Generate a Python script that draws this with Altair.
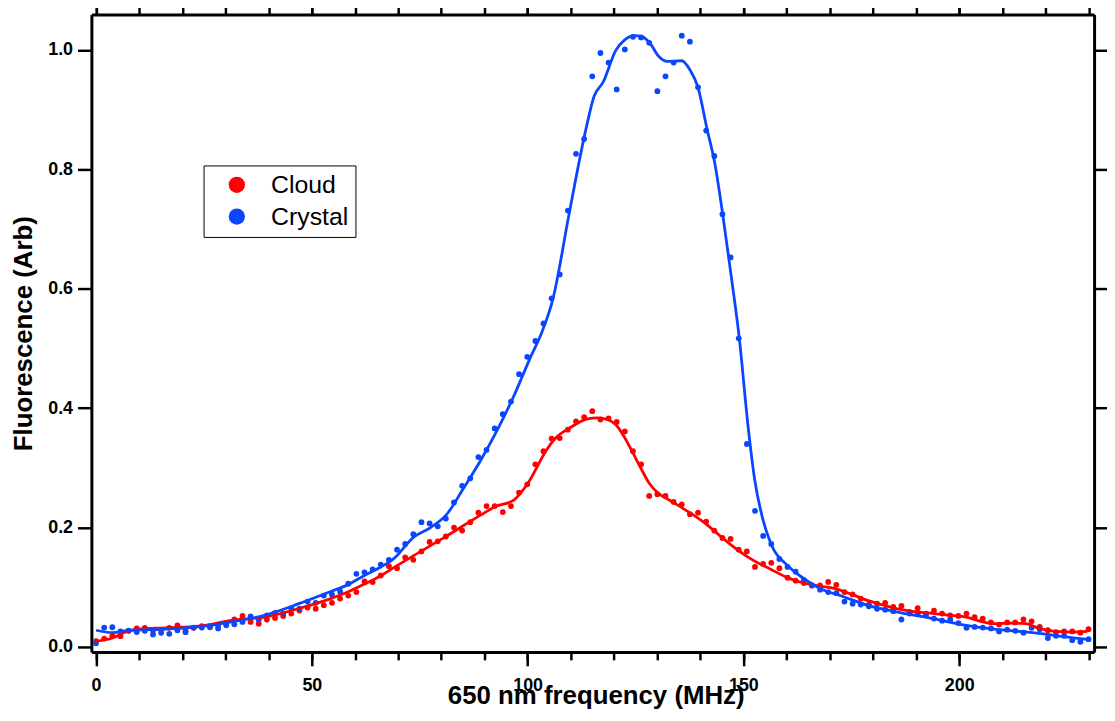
import altair as alt
import pandas as pd

# ---------------- data ----------------
freq = [0.0, 1.885, 3.77, 5.655, 7.54, 9.425, 11.31, 13.195, 15.08, 16.965,
        18.85, 20.735, 22.62, 24.505, 26.39, 28.275, 30.16, 32.045, 33.93, 35.815,
        37.7, 39.585, 41.47, 43.355, 45.24, 47.125, 49.01, 50.895, 52.78, 54.665,
        56.55, 58.435, 60.32, 62.205, 64.09, 65.975, 67.86, 69.745, 71.63, 73.515,
        75.4, 77.285, 79.17, 81.055, 82.94, 84.825, 86.71, 88.595, 90.48, 92.365,
        94.25, 96.135, 98.02, 99.905, 101.79, 103.675, 105.56, 107.445, 109.33, 111.215,
        113.1, 114.985, 116.87, 118.755, 120.64, 122.525, 124.41, 126.295, 128.18, 130.065,
        131.95, 133.835, 135.72, 137.605, 139.49, 141.375, 143.26, 145.145, 147.03, 148.915,
        150.8, 152.685, 154.57, 156.455, 158.34, 160.225, 162.11, 163.995, 165.88, 167.765,
        169.65, 171.535, 173.42, 175.305, 177.19, 179.075, 180.96, 182.845, 184.73, 186.615,
        188.5, 190.385, 192.27, 194.155, 196.04, 197.925, 199.81, 201.695, 203.58, 205.465,
        207.35, 209.235, 211.12, 213.005, 214.89, 216.775, 218.66, 220.545, 222.43, 224.315,
        226.2, 228.085, 229.97]

cloud = [0.0097, 0.014, 0.0187, 0.018, 0.027, 0.031, 0.032, 0.0275, 0.029, 0.032,
         0.036, 0.0275, 0.032, 0.035, 0.033, 0.036, 0.039, 0.046, 0.052, 0.042,
         0.039, 0.046, 0.0487, 0.052, 0.056, 0.061, 0.066, 0.064, 0.070, 0.074,
         0.081, 0.086, 0.092, 0.1097, 0.1087, 0.1197, 0.1353, 0.132, 0.150, 0.146,
         0.160, 0.176, 0.177, 0.185, 0.200, 0.195, 0.209, 0.225, 0.236, 0.236,
         0.226, 0.236, 0.2587, 0.2725, 0.306, 0.328, 0.349, 0.350, 0.364, 0.378,
         0.385, 0.395, 0.381, 0.383, 0.377, 0.361, 0.328, 0.306, 0.253, 0.256,
         0.253, 0.243, 0.239, 0.2225, 0.225, 0.210, 0.195, 0.1825, 0.181, 0.163,
         0.160, 0.134, 0.139, 0.141, 0.132, 0.116, 0.111, 0.107, 0.103, 0.103,
         0.109, 0.104, 0.092, 0.088, 0.081, 0.071, 0.0725, 0.074, 0.067, 0.0687,
         0.0587, 0.065, 0.056, 0.061, 0.056, 0.053, 0.052, 0.056, 0.050, 0.0475,
         0.041, 0.0375, 0.041, 0.041, 0.046, 0.043, 0.0337, 0.028, 0.025, 0.026,
         0.026, 0.024, 0.0297]

crystal = [0.006, 0.0325, 0.033, 0.026, 0.0275, 0.025, 0.027, 0.021, 0.0236, 0.022,
           0.028, 0.0247, 0.0325, 0.0325, 0.0347, 0.031, 0.0363, 0.038, 0.042, 0.0513,
           0.0458, 0.053, 0.057, 0.056, 0.065, 0.064, 0.076, 0.074, 0.086, 0.0875,
           0.093, 0.106, 0.1225, 0.125, 0.130, 0.138, 0.146, 0.163, 0.1725, 0.189,
           0.209, 0.207, 0.202, 0.215, 0.242, 0.270, 0.2825, 0.318, 0.330, 0.366,
           0.390, 0.411, 0.457, 0.486, 0.5125, 0.542, 0.584, 0.624, 0.731, 0.826,
           0.851, 0.956, 0.995, 0.979, 0.934, 1.001, 1.022, 1.021, 1.012, 0.931,
           0.956, 0.979, 1.024, 1.014, 0.9375, 0.865, 0.8225, 0.725, 0.6525, 0.517,
           0.340, 0.228, 0.186, 0.1725, 0.1475, 0.134, 0.126, 0.1125, 0.103, 0.096,
           0.092, 0.090, 0.076, 0.0725, 0.071, 0.068, 0.064, 0.0625, 0.060, 0.046,
           0.056, 0.0547, 0.053, 0.0475, 0.044, 0.046, 0.040, 0.032, 0.0335, 0.0325,
           0.031, 0.026, 0.029, 0.027, 0.024, 0.032, 0.0297, 0.015, 0.0187, 0.0187,
           0.0113, 0.0087, 0.013]

cloud_fit_x = [0, 3.8, 6.9, 9.9, 16.1, 23.8, 31.4, 39.1, 46.8, 54.4, 58.3, 62.1, 65.9,
               69.0, 73.6, 81.3, 88.9, 92.8, 96.6, 98.5, 100.4, 104.2, 106.5, 110.0,
               113.9, 116.2, 118.5, 120.4, 122.3, 124.2, 126.2, 128.1, 130.0, 133.1,
               136.9, 140.8, 144.6, 148.4, 152.3, 156.1, 159.9, 163.7, 167.6, 171.0,
               174.8, 178.7, 182.5, 186.3, 190.2, 194.0, 197.8, 201.7, 205.5, 207.8,
               211.6, 215.5, 218.5, 222.4, 226.2, 229.7]
cloud_fit_y = [0.0097, 0.015, 0.025, 0.0297, 0.032, 0.0347, 0.0447, 0.050, 0.064, 0.081,
               0.092, 0.105, 0.119, 0.133, 0.153, 0.186, 0.220, 0.236, 0.245, 0.259,
               0.278, 0.328, 0.350, 0.368, 0.382, 0.3837, 0.381, 0.3725, 0.353, 0.328,
               0.300, 0.275, 0.259, 0.245, 0.228, 0.209, 0.186, 0.164, 0.145, 0.131,
               0.117, 0.1075, 0.102, 0.098, 0.089, 0.078, 0.070, 0.063, 0.0587, 0.056,
               0.053, 0.050, 0.042, 0.039, 0.040, 0.039, 0.031, 0.026, 0.025, 0.026]

crystal_fit_x = [0, 3.8, 7.7, 16, 24, 31.4, 39, 47, 54.4, 58.3, 62, 66, 69, 73.6, 77.5,
                 81.3, 85, 89, 92.8, 96.6, 100.4, 103.5, 105.8, 109.6, 113.5, 115.4,
                 117.5, 120.4, 122.5, 124.8, 126.5, 128.4, 130.3, 132.3, 135.7, 137.6,
                 139.5, 141.5, 143.4, 145.3, 147.2, 149.1, 151.0, 152.6, 154.5, 156.4,
                 160.3, 164.1, 167.9, 172.9, 178.7, 186.3, 194.0, 201.7, 209.3, 217.0,
                 224.7, 229.7]
crystal_fit_y = [0.028, 0.024, 0.028, 0.030, 0.034, 0.042, 0.053, 0.0725, 0.093, 0.104,
                 0.119, 0.134, 0.148, 0.184, 0.200, 0.2225, 0.264, 0.311, 0.361, 0.417,
                 0.481, 0.531, 0.581, 0.725, 0.867, 0.9225, 0.946, 0.999, 1.017, 1.024,
                 1.0225, 1.011, 0.990, 0.981, 0.982, 0.967, 0.937, 0.870, 0.809, 0.720,
                 0.620, 0.514, 0.375, 0.281, 0.214, 0.1725, 0.136, 0.114, 0.0975, 0.085,
                 0.070, 0.0575, 0.0475, 0.036, 0.029, 0.024, 0.017, 0.0125]

series_names = ["Cloud", "Crystal"]
series_colors = ["#ff0000", "#0a46ff"]
x_major = [0, 50, 100, 150, 200]
x_minor = [0, 10, 20, 30, 40, 50, 60, 70, 80, 90, 100, 110, 120, 130, 140, 150,
           160, 170, 180, 190, 200, 210, 220, 230]
y_major = [0.0, 0.2, 0.4, 0.6, 0.8, 1.0]

# ---------------- tables ----------------
pts = pd.DataFrame({
    "freq": freq + freq,
    "val": cloud + crystal,
    "series": ["Cloud"] * len(freq) + ["Crystal"] * len(freq),
})
fit = pd.DataFrame({
    "freq": cloud_fit_x + crystal_fit_x,
    "val": cloud_fit_y + crystal_fit_y,
    "series": ["Cloud"] * len(cloud_fit_x) + ["Crystal"] * len(crystal_fit_x),
})

FONT = "Liberation Sans"
LABEL_SIZE = 18
xs = alt.Scale(domain=[-1.08, 231.26], nice=False, zero=False)
ys = alt.Scale(domain=[-0.0083, 1.0594], nice=False, zero=False)
cs = alt.Scale(domain=series_names, range=series_colors)

tick = dict(tickColor="black", tickWidth=2.5, grid=False)
frame = dict(domain=True, domainColor="black", domainWidth=3)
noframe = dict(domain=False)

ax_bottom_major = alt.Axis(orient="bottom", values=x_major, tickSize=14,
                           labelFont=FONT, labelFontSize=LABEL_SIZE, labelFontWeight="bold",
                           labelColor="black", labelPadding=11, labelFlush=False,
                           labelOverlap=False,
                           title="650 nm frequency (MHz)", titleFont=FONT,
                           titleFontSize=26, titleFontWeight="bold", titleColor="black",
                           titleX=508, titleY=52, titleAlign="center",
                           titleBaseline="alphabetic", **tick, **frame)
ax_bottom_minor = alt.Axis(orient="bottom", values=x_minor, tickSize=8, labels=False,
                           title=None, **tick, **noframe)
ax_top_major = alt.Axis(orient="top", values=x_major, tickSize=14, labels=False,
                        title=None, **tick, **frame)
ax_top_minor = alt.Axis(orient="top", values=x_minor, tickSize=8, labels=False,
                        title=None, **tick, **noframe)
ax_left = alt.Axis(orient="left", values=y_major, format=".1f", tickSize=14,
                   labelFont=FONT, labelFontSize=LABEL_SIZE, labelFontWeight="bold",
                   labelColor="black", labelPadding=5, labelFlush=False,
                   labelOverlap=False,
                   title="Fluorescence (Arb)", titleFont=FONT, titleFontSize=26,
                   titleFontWeight="bold", titleColor="black", titlePadding=11,
                   **tick, **frame)
ax_right = alt.Axis(orient="right", values=y_major, tickSize=14, labels=False,
                    title=None, **tick, **frame)

legend = alt.Legend(orient="none", legendX=113, legendY=152, title=None,
                    symbolType="circle", symbolSize=270, symbolStrokeWidth=0,
                    labelFont=FONT, labelFontSize=25, labelColor="black",
                    strokeColor="black", fillColor="white", padding=7,
                    rowPadding=6, symbolOffset=14, labelOffset=22)

points = alt.Chart(pts).mark_circle(size=34, opacity=1).encode(
    x=alt.X("freq:Q", scale=xs, axis=ax_bottom_major),
    y=alt.Y("val:Q", scale=ys, axis=ax_left),
    color=alt.Color("series:N", scale=cs, legend=legend),
)

lines = alt.Chart(fit).mark_line(strokeWidth=2.8, interpolate="monotone").encode(
    x=alt.X("freq:Q", scale=xs, axis=ax_bottom_minor),
    y=alt.Y("val:Q", scale=ys, axis=ax_right),
    color=alt.Color("series:N", scale=cs, legend=None),
    detail="series:N",
)

top_major = alt.Chart(pts).mark_point(opacity=0).encode(
    x=alt.X("freq:Q", scale=xs, axis=ax_top_major),
    y=alt.Y("val:Q", scale=ys, axis=None),
)
top_minor = alt.Chart(pts).mark_point(opacity=0).encode(
    x=alt.X("freq:Q", scale=xs, axis=ax_top_minor),
    y=alt.Y("val:Q", scale=ys, axis=None),
)

chart = alt.layer(points, lines, top_major, top_minor).resolve_axis(
    x="independent", y="independent"
).properties(
    width=1010, height=642,
    padding={"left": 84, "top": 4, "right": 13, "bottom": 67},
    autosize=alt.AutoSizeParams(type="none"),
    background="white",
).configure_view(strokeWidth=0).configure_axis(
    labelFont=FONT, labelFontSize=LABEL_SIZE, labelFontWeight="bold", labelColor="black"
).configure(font=FONT)

chart.save("out.html", embed_options={"renderer": "svg", "actions": False})
